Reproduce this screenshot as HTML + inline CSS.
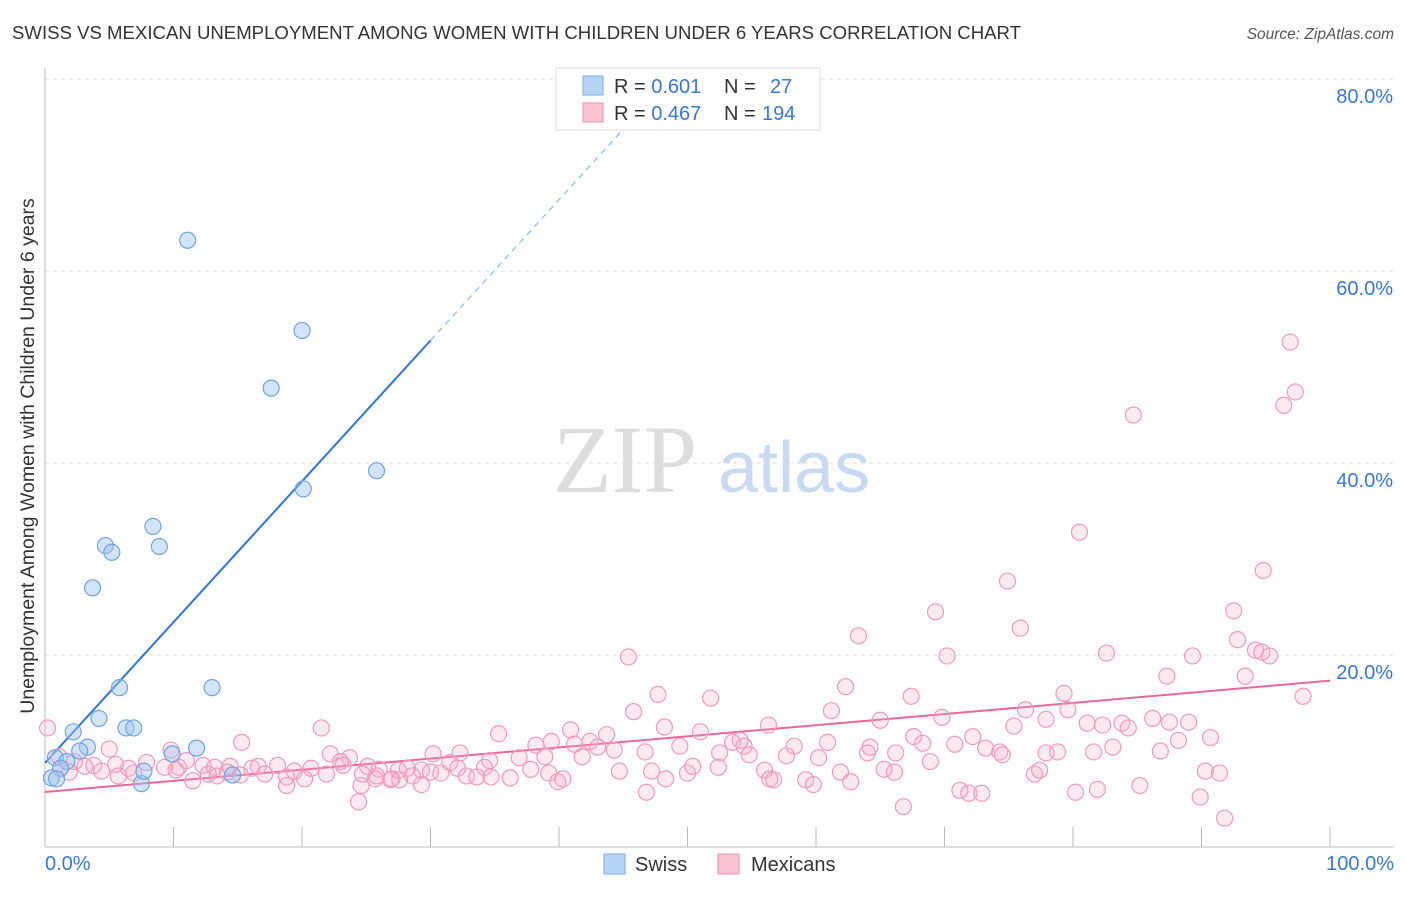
<!DOCTYPE html>
<html><head><meta charset="utf-8"><style>
body{margin:0;background:#fff;font-family:"Liberation Sans",sans-serif}
svg text{font-family:"Liberation Sans",sans-serif}
</style></head><body>
<svg id="chart" width="1406" height="892">
<text x="12" y="39" font-size="18.6" fill="#333">SWISS VS MEXICAN UNEMPLOYMENT AMONG WOMEN WITH CHILDREN UNDER 6 YEARS CORRELATION CHART</text>
<text x="1394" y="39" font-size="15.5" fill="#555" font-style="italic" text-anchor="end">Source: ZipAtlas.com</text>
<text transform="translate(34,456) rotate(-90)" font-size="19.5" fill="#333" text-anchor="middle">Unemployment Among Women with Children Under 6 years</text>
<g>
<text x="553" y="492" font-size="96" fill="#ddd" font-family="Liberation Serif" style="font-family:'Liberation Serif',serif">ZIP</text>
<text x="718" y="492" font-size="72" fill="#c8daf2">atlas</text>
</g>
<g id="grid"></g><g id="axes"></g><g id="trends"></g><g id="pts"></g>
<g>
<rect x="556" y="68" width="264" height="62" fill="#fff" stroke="#ddd"/>
<rect x="583" y="76" width="20" height="19" fill="#b8d4f5" stroke="#7aaee8"/>
<text x="614" y="93" font-size="20" fill="#333">R = <tspan fill="#3a78d0">0.601</tspan><tspan x="724">N = </tspan><tspan x="770" fill="#3a78d0">27</tspan></text>
<rect x="583" y="103" width="20" height="19" fill="#f9c4d4" stroke="#f08cb0"/>
<text x="614" y="120" font-size="20" fill="#333">R = <tspan fill="#3a78d0">0.467</tspan><tspan x="724">N = </tspan><tspan x="762" fill="#3a78d0">194</tspan></text>
</g>
<g>
<rect x="604" y="854" width="21" height="20" fill="#b8d4f5" stroke="#7aaee8"/>
<text x="635" y="871" font-size="20" fill="#333">Swiss</text>
<rect x="718" y="854" width="21" height="20" fill="#f9c4d4" stroke="#f08cb0"/>
<text x="751" y="871" font-size="20" fill="#333">Mexicans</text>
</g>
</svg>
<script>
const yTicks=[20,40,60,80];
const yTickLabels=["20.0%","40.0%","60.0%","80.0%"];
const xTicks=[0,10,20,30,40,50,60,70,80,90,100];
const xTickLabels=["0.0%","100.0%"];
const swissX=[11.1,20.0,17.6,25.8,20.1,8.4,4.7,5.2,8.9,3.7,5.8,13.0,4.2,2.2,6.3,6.9,3.3,2.7,0.8,11.8,9.9,1.7,1.2,0.5,0.9,7.5,7.7,14.6];
const swissY=[63.2,53.8,47.8,39.2,37.3,33.4,31.4,30.7,31.3,27.0,16.6,16.6,13.4,12.0,12.4,12.4,10.4,10.0,9.3,10.3,9.7,8.9,8.2,7.2,7.1,6.6,7.9,7.5];
const mexX=[96.9,97.3,96.4,84.7,80.5,74.9,94.8,69.3,92.5,75.9,63.3,92.8,94.2,94.7,95.3,70.2,45.4,82.6,89.3,87.3,93.4,97.9,62.3,47.7,51.8,67.4,79.3,76.3,79.6,61.2,45.8,69.8,77.9,86.2,87.5,89.0,81.1,82.3,83.8,84.3,65.0,75.4,21.5,35.3,40.9,48.2,51.0,56.3,67.6,72.2,88.2,90.7,43.7,42.4,39.4,38.2,41.2,43.0,44.3,49.4,53.5,54.1,54.4,58.3,60.9,64.2,68.3,70.8,73.2,74.3,83.1,86.8,15.3,9.8,5.0,0.2,1.1,22.2,23.7,30.2,32.3,34.6,36.9,38.9,41.8,46.7,52.5,54.8,57.7,60.2,64.0,66.2,77.9,78.8,81.6,74.5,68.9,1.2,2.3,3.1,3.8,5.5,6.5,7.9,9.3,10.4,11.0,12.3,13.2,14.4,16.1,16.6,18.1,19.4,20.7,23.0,23.2,25.1,26.0,27.5,28.2,29.3,31.5,32.1,34.2,37.8,39.2,1.9,4.4,5.7,6.9,10.2,12.7,14.2,15.2,17.1,18.8,21.9,24.7,25.7,27.0,28.6,30.0,30.8,32.8,33.6,34.7,36.2,11.5,13.4,18.8,20.2,24.6,26.9,27.6,29.3,39.9,40.3,44.7,47.2,48.3,50.0,50.4,52.4,56.0,56.4,59.2,59.8,61.9,62.7,65.3,66.1,71.2,71.9,72.9,77.0,77.4,80.2,81.9,85.2,90.3,91.4,89.9,91.8,66.8,46.8,56.7,24.4,25.8];
const mexY=[52.6,47.4,46.0,45.0,32.8,27.7,28.8,24.5,24.6,22.8,22.0,21.6,20.5,20.3,19.9,19.9,19.8,20.2,19.9,17.8,17.8,15.7,16.7,15.9,15.5,15.7,16.0,14.3,14.3,14.2,14.1,13.5,13.3,13.4,13.0,13.0,12.9,12.7,12.9,12.4,13.2,12.6,12.4,11.8,12.2,12.5,12.0,12.7,11.5,11.5,11.1,11.4,11.7,11.0,11.0,10.6,10.7,10.4,10.1,10.5,10.9,11.1,10.5,10.5,10.9,10.4,10.8,10.7,10.3,9.9,10.4,10.0,10.9,10.1,10.2,12.4,9.4,9.7,9.3,9.7,9.8,9.0,9.3,9.4,9.4,9.9,9.8,9.6,9.5,9.3,9.8,9.8,9.8,9.9,9.9,9.6,8.9,8.2,8.9,8.4,8.5,8.6,8.2,8.8,8.3,8.3,9.0,8.5,8.3,8.4,8.2,8.4,8.5,7.9,8.2,8.9,8.5,8.4,8.1,8.0,8.2,8.0,8.8,8.2,8.3,8.1,7.7,7.8,7.9,7.4,7.7,8.0,7.6,7.8,7.5,7.6,7.3,7.6,7.6,7.1,7.1,7.4,7.8,7.7,7.4,7.3,7.3,7.2,6.9,7.4,6.4,7.1,6.4,7.0,7.0,6.5,6.8,7.1,7.9,7.9,7.1,7.7,8.4,8.3,8.0,7.1,7.0,6.5,7.8,6.8,8.1,7.8,5.9,5.6,5.6,7.6,8.0,5.7,6.0,6.4,7.9,7.7,5.2,3.0,4.2,5.7,7.0,4.7,7.4];
const trendIntercepts=[8.75,5.73];
const trendSlopes=[1.467,0.116];
const NS='http://www.w3.org/2000/svg';
const X0=45,X1=1330,Y0=847,PXPER=9.6;
function sx(v){return X0+(X1-X0)*v/100;}
function sy(v){return Y0-v*PXPER;}
function mk(t,a,p){const e=document.createElementNS(NS,t);for(const k in a)e.setAttribute(k,a[k]);p.appendChild(e);return e;}
const grid=document.getElementById('grid'),axes=document.getElementById('axes'),trends=document.getElementById('trends'),pts=document.getElementById('pts');
yTicks.forEach((t,i)=>{
 const l=mk('line',{x1:X0,x2:1394,y1:sy(t),y2:sy(t),stroke:'#ddd','stroke-dasharray':'4,4'},grid);
 
 
 const tx=mk('text',{x:1393,y:sy(t)+24,'font-size':20,fill:'#3a78d0','text-anchor':'end'},axes);
 tx.textContent=yTickLabels[i];
 
 
});
let l=mk('line',{x1:X0,x2:X0,y1:68,y2:Y0,stroke:'#bbb'},axes);


l=mk('line',{x1:X0,x2:1394,y1:Y0,y2:Y0,stroke:'#bbb'},axes);


xTicks.forEach(t=>{
 const k=mk('line',{x1:sx(t),x2:sx(t),y1:Y0-20,y2:Y0,stroke:'#bbb'},axes);
 
 
});
let t0=mk('text',{x:45,y:870,'font-size':20,fill:'#3a78d0'},axes);t0.textContent=xTickLabels[0];


let t1=mk('text',{x:1394,y:870,'font-size':20,fill:'#3a78d0','text-anchor':'end'},axes);t1.textContent=xTickLabels[1];


let tb=mk('line',{x1:sx(0),y1:sy(trendIntercepts[0]),x2:sx(30),y2:sy(trendIntercepts[0]+trendSlopes[0]*30),stroke:'#2f74d8','stroke-width':2},trends);


let td=mk('line',{x1:sx(30),y1:sy(trendIntercepts[0]+trendSlopes[0]*30),x2:sx(45.5),y2:sy(trendIntercepts[0]+trendSlopes[0]*45.5),stroke:'#8fb6ea','stroke-width':1.2,'stroke-dasharray':'6,5'},trends);


let tp=mk('line',{x1:sx(0),y1:sy(trendIntercepts[1]),x2:sx(100),y2:sy(trendIntercepts[1]+trendSlopes[1]*100),stroke:'#e8689a','stroke-width':2},trends);


mexX.forEach((x,i)=>{
 const c=mk('circle',{cx:sx(x),cy:sy(mexY[i]),r:8,fill:'rgba(247,170,198,0.25)',stroke:'#f09aba','stroke-width':1.2},pts);
 
 
});
swissX.forEach((x,i)=>{
 const c=mk('circle',{cx:sx(x),cy:sy(swissY[i]),r:8,fill:'rgba(160,196,240,0.45)',stroke:'#6fa4e4','stroke-width':1.2},pts);
 
 
});
</script>
</body></html>
